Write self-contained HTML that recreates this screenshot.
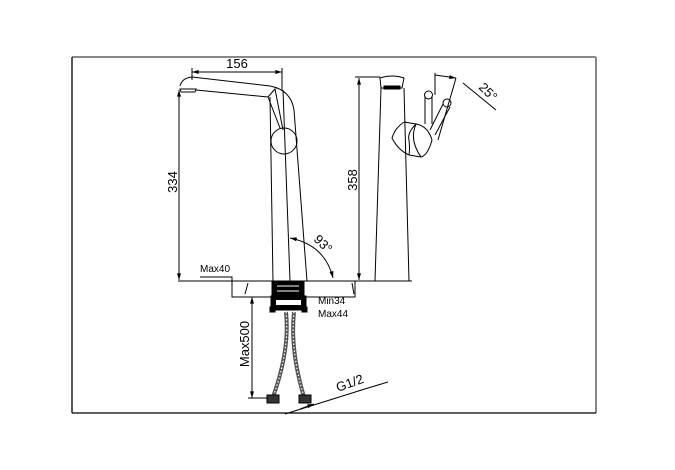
<!DOCTYPE html>
<html><head><style>html,body{margin:0;padding:0;background:#fff;}svg{display:block}</style></head>
<body>
<svg width="675" height="470" viewBox="0 0 675 470" xmlns="http://www.w3.org/2000/svg" font-family="Liberation Sans, DejaVu Sans, sans-serif">
<defs>
<marker id="a" viewBox="0 0 10 6" refX="10" refY="3" markerWidth="8" markerHeight="4" orient="auto-start-reverse"><path d="M0,0 L10,3 L0,6 z" fill="#000"/></marker>
</defs>
<line x1="72" y1="57" x2="596" y2="57" stroke="#888" stroke-width="2"/>
<line x1="596" y1="57" x2="596" y2="413" stroke="#888" stroke-width="2"/>
<line x1="72" y1="57" x2="72" y2="413" stroke="#000" stroke-width="1.3"/>
<line x1="72" y1="413" x2="596" y2="413" stroke="#000" stroke-width="1.3"/>

<g fill="none" stroke="#000" stroke-width="1">
<line x1="192" y1="72" x2="282" y2="72" marker-start="url(#a)" marker-end="url(#a)"/>
<line x1="192" y1="68" x2="192" y2="80"/>
<line x1="282" y1="68" x2="282" y2="90"/>
<path d="M180,86 Q182,78 192,77 L270,86 Q291,90 294,110"/>
<path d="M180,89 L196,89 L195,92 L181,92 z"/>
<path d="M196,90 L268,97"/>
<path d="M268,97 L275,89 L283,130"/>
<path d="M268,97 L280,128"/>
<circle cx="284" cy="141" r="13"/>
<path d="M270,97 L273,281"/>
<path d="M294,110 L307,281"/>
<path d="M283,90 L290,281"/>
<line x1="179" y1="90" x2="179" y2="280" marker-start="url(#a)" marker-end="url(#a)"/>
<line x1="178" y1="281" x2="412" y2="281"/>
<path d="M232,281 L232,297 L355,297 L355,281"/>
<line x1="248" y1="283" x2="245" y2="294"/>
<line x1="352" y1="283" x2="354" y2="294"/>
<path d="M200,277 L232,277 L232,281"/>
<path d="M290,238 Q325,245 333,278" marker-start="url(#a)" marker-end="url(#a)"/>
<line x1="359" y1="78" x2="359" y2="280" marker-start="url(#a)" marker-end="url(#a)"/>
<line x1="355" y1="77" x2="380" y2="77"/>
<path d="M381,88 L375,281"/>
<path d="M404,88 L409,281"/>
<path d="M380,78 Q392,74 404,78 L402,88 L381,88 z"/>
<rect x="384" y="86" width="16" height="3" fill="#000"/>
<path d="M404,122 Q395,128 392,138 Q398,150 409,155"/>
<path d="M404,122 L416,124 Q407,133 409,140 Q410,150 409,155"/>
<path d="M416,124 Q428,126 432,140 Q428,155 421,157 L409,155"/>
<path d="M416,124 Q409,140 421,157"/>
<path d="M425,96 L425,124"/><path d="M432,96 L432,124"/>
<circle cx="428.5" cy="95" r="4"/>
<path d="M443,104 L430,130"/><path d="M450,107 L435,135"/>
<circle cx="447" cy="103" r="4"/>
<path d="M435,75 L456,78" marker-end="url(#a)"/>
<path d="M456,78 L438,140"/>
<line x1="435" y1="73" x2="435" y2="95"/>
<line x1="463" y1="83" x2="496" y2="110"/>
<rect x="272" y="281" width="32" height="16" fill="#000"/>
<line x1="277" y1="286" x2="299" y2="286" stroke="#fff"/>
<line x1="277" y1="291" x2="299" y2="291" stroke="#fff"/>
<rect x="271" y="296" width="35" height="14" fill="#000"/>
<rect x="276" y="300" width="25" height="5" fill="#fff" stroke="none"/>
<rect x="270" y="307" width="5" height="5" fill="#000"/>
<rect x="302" y="307" width="5" height="5" fill="#000"/>
<g stroke-width="4" stroke="#555"><path d="M286,312 Q290,350 273,397"/><path d="M294,312 Q290,350 304,397"/></g>
<g stroke-width="1.2" stroke="#fff" stroke-dasharray="1.5 2"><path d="M286,312 Q290,350 273,397"/><path d="M294,312 Q290,350 304,397"/></g>
<rect x="267" y="395" width="12" height="8" fill="#333"/>
<rect x="299" y="395" width="12" height="8" fill="#333"/>
<line x1="252" y1="297" x2="252" y2="398" marker-start="url(#a)" marker-end="url(#a)"/>
<line x1="248" y1="398" x2="268" y2="398"/>
<line x1="285" y1="414" x2="368" y2="388"/>
<line x1="368" y1="388" x2="388" y2="382"/>
<line x1="300" y1="409" x2="314" y2="404" marker-end="url(#a)"/>
</g>

<g font-size="13" fill="#000">
<text x="237" y="68" text-anchor="middle">156</text>
<text transform="translate(177,182) rotate(-90)" text-anchor="middle">334</text>
<text transform="translate(357,180) rotate(-90)" text-anchor="middle">358</text>
<text x="200" y="272" font-size="10">Max40</text>
<text x="318" y="304" font-size="10">Min34</text>
<text x="318" y="317" font-size="10">Max44</text>
<text transform="translate(249,344) rotate(-90)" text-anchor="middle">Max500</text>
<text transform="translate(338,392) rotate(-20)">G1/2</text>
<text transform="translate(313,240) rotate(45)">93°</text>
<text transform="translate(478,88) rotate(45)">25°</text>
</g>
</svg>
</body></html>
